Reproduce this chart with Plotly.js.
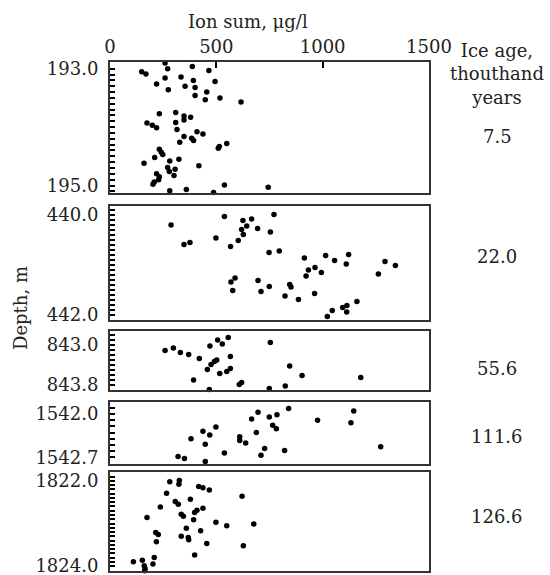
<!DOCTYPE html>
<html>
<head>
<meta charset="utf-8">
<script src="https://cdn.plot.ly/plotly-3.0.1.min.js"></script>
<style>html,body{margin:0;padding:0;background:#fff;}#chart{width:550px;height:575px;}</style>
</head>
<body>
<div id="chart"></div>
<script>
// ---- data ----
const ion1 = [259,271,387,465,149,169,259,334,392,494,219,353,400,274,455,400,448,517,616,232,309,348,379,348,309,174,199,219,315,409,437,348,384,393,328,549,514,509,232,241,248,210,324,281,160,418,271,306,279,301,219,232,229,208,202,538,744,281,359,487];
const depth1 = [192.90,193.00,192.96,193.03,193.05,193.09,193.16,193.14,193.20,193.22,193.26,193.30,193.32,193.36,193.40,193.46,193.53,193.50,193.57,193.77,193.75,193.81,193.83,193.88,193.92,193.93,193.97,194.01,194.04,194.08,194.12,194.16,194.19,194.23,194.26,194.28,194.33,194.36,194.38,194.43,194.47,194.52,194.55,194.58,194.62,194.66,194.69,194.72,194.76,194.83,194.80,194.85,194.90,194.94,194.98,194.99,195.03,195.09,195.07,195.12];

const ion2 = [287,538,625,666,771,643,619,694,627,754,498,603,348,376,567,748,796,914,1014,1056,1122,1111,1293,1342,964,933,994,922,1262,588,569,696,845,851,749,577,710,962,823,886,1161,1114,1094,1045,1113,1022];
const depth2 = [440.20,440.03,440.11,440.08,439.99,440.22,440.29,440.27,440.39,440.34,440.46,440.51,440.59,440.55,440.63,440.75,440.72,440.86,440.81,440.91,440.79,440.98,440.93,441.01,441.05,441.10,441.15,441.22,441.18,441.26,441.34,441.31,441.39,441.44,441.43,441.51,441.53,441.57,441.62,441.69,441.73,441.81,441.85,441.91,441.94,442.03];

const ion3 = [259,298,331,370,470,506,528,556,754,420,566,502,491,475,458,566,549,516,845,903,1179,393,619,608,467,749,824];
const depth3 = [843.11,843.06,843.15,843.19,843.02,842.90,842.98,842.85,842.95,843.27,843.23,843.30,843.33,843.39,843.49,843.47,843.53,843.57,843.42,843.61,843.65,843.70,843.75,843.79,843.89,843.87,843.82];

const ion4 = [840,696,785,749,666,1146,976,1133,765,782,498,437,688,469,381,610,610,638,448,727,821,1273,538,710,320,350,448];
const depth4 = [1541.91,1541.97,1542.01,1542.05,1542.08,1541.95,1542.10,1542.14,1542.18,1542.24,1542.21,1542.28,1542.30,1542.34,1542.40,1542.37,1542.43,1542.47,1542.49,1542.56,1542.59,1542.53,1542.63,1542.67,1542.69,1542.72,1542.77];

const ion5 = [281,326,324,417,437,467,266,621,378,307,321,237,437,409,398,335,345,174,393,498,549,676,359,426,215,227,335,368,370,218,455,627,398,208,110,152,202,161,165,163];
const depth5 = [1822.02,1821.99,1822.08,1822.13,1822.16,1822.21,1822.29,1822.36,1822.43,1822.48,1822.55,1822.61,1822.64,1822.69,1822.74,1822.78,1822.83,1822.86,1822.91,1822.97,1823.05,1823.01,1823.11,1823.17,1823.21,1823.26,1823.30,1823.33,1823.38,1823.43,1823.47,1823.52,1823.74,1823.80,1823.90,1823.86,1823.95,1823.99,1824.06,1824.11];

const xTicks = [0, 500, 1000, 1500];
const depthTicks = [[193.0,195.0],[440.0,442.0],[843.0,843.8],[1542.0,1542.7],[1822.0,1824.0]];
const depthTickText = [['193.0','195.0'],['440.0','442.0'],['843.0','843.8'],['1542.0','1542.7'],['1822.0','1824.0']];
const iceAges = ['7.5','22.0','55.6','111.6','126.6'];

// ---- layout helpers ----
const FONT = 'DejaVu Serif, serif';
const LINE = '#333';
const ions = [ion1, ion2, ion3, ion4, ion5];
const depths = [depth1, depth2, depth3, depth4, depth5];
const domains = [[0.742,1.0],[0.4931,0.7171],[0.3556,0.4715],[0.2102,0.3320],[0.0,0.1945]];
const ranges = [[195.134,192.885],[442.10,439.82],[843.90,842.72],[1542.81,1541.805],[1824.115,1821.79]];
const ageY = [0.8527,0.6169,0.3988,0.2633,0.1061];

// tick marks every 0.1 m inside the shown range; labels only at the ends
function tickSet(i) {
  const lo = Math.min(ranges[i][0], ranges[i][1]);
  const hi = Math.max(ranges[i][0], ranges[i][1]);
  const vals = [], text = [];
  const start = Math.ceil(lo * 10 - 1e-6);
  const end = Math.floor(hi * 10 + 1e-6);
  for (let k = start; k <= end; k++) {
    const v = k / 10;
    vals.push(v);
    const idx = depthTicks[i].findIndex(t => Math.abs(t - v) < 1e-6);
    text.push(idx >= 0 ? depthTickText[i][idx] : '');
  }
  return {vals, text};
}

const traces = [];
const layout = {
  width: 550, height: 575,
  margin: {l:110, r:121, t:62, b:4},
  paper_bgcolor: '#fff', plot_bgcolor: 'rgba(0,0,0,0)',
  showlegend: false,
  font: {family: FONT, size: 18, color: '#222'},
  annotations: []
};

for (let i = 0; i < 5; i++) {
  const n = i === 0 ? '' : String(i + 1);
  const ts = tickSet(i);
  traces.push({
    type: 'scatter', mode: 'markers',
    x: ions[i], y: depths[i],
    xaxis: 'x' + n, yaxis: 'y' + n,
    marker: {color: '#000', size: 5.5},
    cliponaxis: false
  });
  layout['xaxis' + n] = {
    range: [0, 1500], domain: [0, 1], anchor: 'y' + n,
    showline: true, mirror: true, linecolor: LINE, linewidth: 2,
    showgrid: false, zeroline: false,
    side: 'top',
    tickmode: 'array', tickvals: xTicks, ticktext: xTicks.map(String),
    showticklabels: i === 0,
    ticks: i === 0 ? 'inside' : '', ticklen: 6, tickwidth: 2, tickcolor: '#000',
    tickfont: {family: FONT, size: 18, color: '#222'},
    layer: 'above traces'
  };
  layout['yaxis' + n] = {
    range: ranges[i], domain: domains[i], anchor: 'x' + n,
    showline: true, mirror: true, linecolor: LINE, linewidth: 2,
    showgrid: false, zeroline: false,
    tickmode: 'array', tickvals: ts.vals, ticktext: ts.text,
    ticks: 'inside', ticklen: 5, tickwidth: 2, tickcolor: '#000',
    ticklabelstandoff: 6, ticklabeloverflow: 'allow',
    tickfont: {family: FONT, size: 18, color: '#222'},
    layer: 'above traces'
  };
  layout.annotations.push({
    xref: 'paper', yref: 'paper', x: 1.2132, y: ageY[i],
    text: iceAges[i], showarrow: false, xanchor: 'center', yanchor: 'middle',
    font: {family: FONT, size: 18, color: '#222'}
  });
}

layout.annotations.push({
  xref: 'paper', yref: 'paper', x: 1.2132, y: 0.9764,
  text: 'Ice age,<br>thouthand<br>years', showarrow: false,
  xanchor: 'center', yanchor: 'middle',
  font: {family: FONT, size: 18, color: '#222'}
});
layout.annotations.push({
  xref: 'paper', yref: 'paper', x: 0.4326, y: 1.0786,
  text: 'Ion sum, μg/l', showarrow: false,
  xanchor: 'center', yanchor: 'middle',
  font: {family: FONT, size: 18, color: '#222'}
});
layout.annotations.push({
  xref: 'paper', yref: 'paper', x: -0.279, y: 0.5167,
  text: 'Depth, m', showarrow: false, textangle: -90,
  xanchor: 'center', yanchor: 'middle',
  font: {family: FONT, size: 18, color: '#222'}
});

Plotly.newPlot('chart', traces, layout, {staticPlot: true, displayModeBar: false});
</script>
</body>
</html>
